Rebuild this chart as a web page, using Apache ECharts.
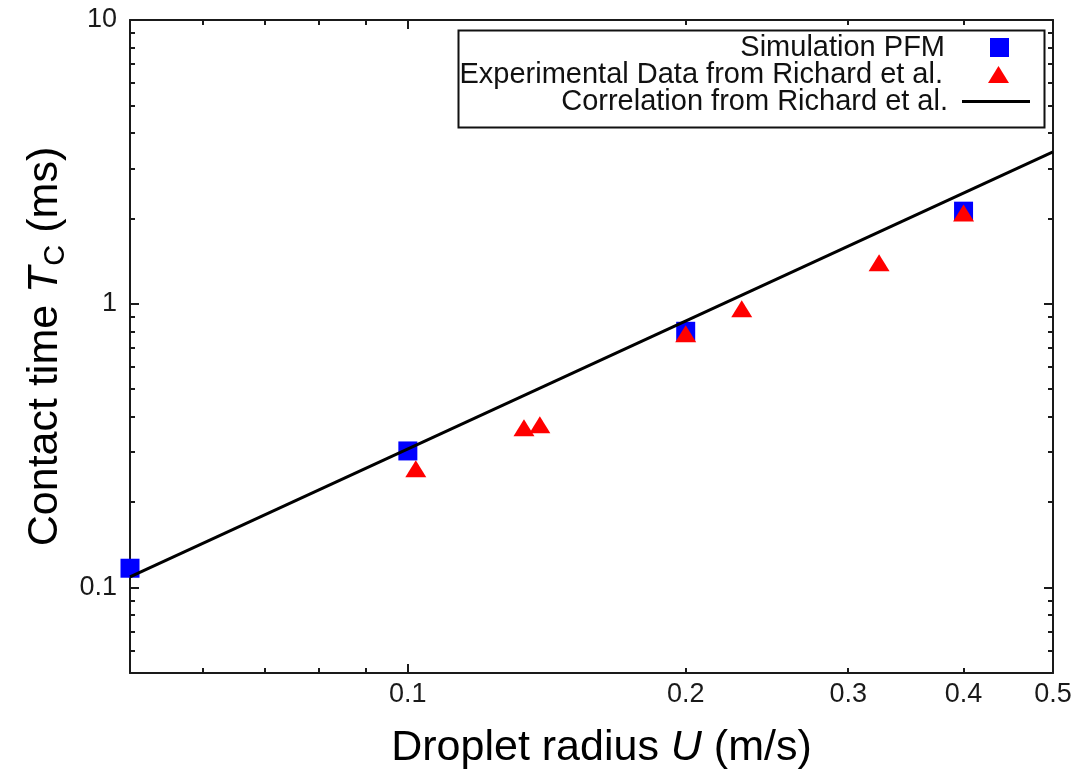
<!DOCTYPE html>
<html><head><meta charset="utf-8">
<script src="https://cdn.jsdelivr.net/npm/echarts@6/dist/echarts.min.js"></script>
<style>html,body{margin:0;padding:0;background:#fff}#c{width:1086px;height:772px}</style>
</head><body><div id="c"></div>
<script>
// ---- data ----
const seriesNames = ['Simulation PFM', 'Experimental Data from Richard et al.', 'Correlation from Richard et al.'];
const simX = [0.05, 0.1, 0.2, 0.4];
const simY = [0.117, 0.303, 0.80, 2.12];
const expX = [0.102, 0.1336, 0.139, 0.2, 0.23, 0.324, 0.4];
const expY = [0.262, 0.366, 0.375, 0.784, 0.96, 1.395, 2.09];
const corrX = [0.05, 0.5];
const corrY = [0.109, 3.43];
const xRange = [0.05, 0.5];
const yRange = [0.05, 10];
const xMajorTicks = [0.1];
const xMinorTicks = [0.06, 0.07, 0.08, 0.09, 0.2, 0.3, 0.4];
const xTickLabels = [0.1, 0.2, 0.3, 0.4, 0.5];
const yMajorTicks = [0.1, 1, 10];
const yMinorTicks = [0.06, 0.07, 0.08, 0.09, 0.2, 0.3, 0.4, 0.5, 0.6, 0.7, 0.8, 0.9, 2, 3, 4, 5, 6, 7, 8, 9];
const yTickLabels = [0.1, 1, 10];
const xTitle = 'Droplet radius {i|U} (m/s)';
const yTitle = 'Contact time {i|T}{s|C} (ms)';

const FONT = '"Liberation Sans", Arial, Helvetica, sans-serif';
const AX = '#1a1a1a';
const L = v => Math.log10(v);
const fmt = v => String(parseFloat(Math.pow(10, v).toPrecision(2)));
const zip = (a, b) => a.map((v, i) => [v, b[i]]);

function decoAxis(position, range, ticks, len, labels, showLine, labelMargin) {
  return {
    type: 'value', position: position, min: L(range[0]), max: L(range[1]),
    silent: true, splitLine: {show: false}, minorTick: {show: false},
    axisLine: {show: !!showLine, onZero: false, lineStyle: {color: AX, width: 2}},
    axisTick: {show: true, inside: true, length: len, customValues: ticks.map(L),
               lineStyle: {color: AX, width: 2}},
    axisLabel: labels ? {show: true, customValues: labels.map(L), formatter: fmt,
               margin: labelMargin, fontSize: 27, color: '#1a1a1a', fontFamily: FONT,
               showMinLabel: true, showMaxLabel: true, hideOverlap: false}
             : {show: false}
  };
}

const titleRich = (sz) => ({
  i: {fontStyle: 'italic', fontSize: sz, fontFamily: FONT, color: '#000', lineHeight: 50},
  s: {fontSize: 29, fontFamily: FONT, color: '#000', lineHeight: 29, verticalAlign: 'bottom', padding: [0, 0, 0, 1]}
});
const legendText = (padRight) => ({
  fontSize: 29, fontFamily: FONT, color: '#111',
  rich: {t: {fontSize: 29, fontFamily: FONT, color: '#111', padding: [0, padRight, 0, 0]}}
});

const chart = echarts.init(document.getElementById('c'), null, {renderer: 'canvas'});
chart.setOption({
  animation: false,
  backgroundColor: '#fff',
  grid: {left: 130, right: 33, top: 20, bottom: 99, containLabel: false, outerBoundsMode: 'none'},
  xAxis: [
    {type: 'log', logBase: 10, min: xRange[0], max: xRange[1], position: 'bottom',
     axisLine: {show: true, onZero: false, lineStyle: {color: AX, width: 2}},
     axisTick: {show: false}, axisLabel: {show: false}, splitLine: {show: false}, minorTick: {show: false},
     name: xTitle, nameLocation: 'middle', nameGap: 50,
     nameTextStyle: {fontSize: 43, fontFamily: FONT, color: '#000', lineHeight: 50, padding: [0, 0, 0, 20], rich: titleRich(43)}},
    decoAxis('bottom', xRange, xMajorTicks, 9, xTickLabels, false, 8),
    decoAxis('bottom', xRange, xMinorTicks, 5, null, false),
    decoAxis('top', xRange, xMajorTicks, 9, null, true),
    decoAxis('top', xRange, xMinorTicks, 5, null, false)
  ],
  yAxis: [
    {type: 'log', logBase: 10, min: yRange[0], max: yRange[1], position: 'left',
     axisLine: {show: true, onZero: false, lineStyle: {color: AX, width: 2}},
     axisTick: {show: false}, axisLabel: {show: false}, splitLine: {show: false}, minorTick: {show: false},
     name: yTitle, nameLocation: 'middle', nameGap: 60, nameRotate: 90,
     nameTextStyle: {fontSize: 43, fontFamily: FONT, color: '#000', lineHeight: 50, rich: titleRich(43)}},
    decoAxis('left', yRange, yMajorTicks, 9, yTickLabels, false, 13),
    decoAxis('left', yRange, yMinorTicks, 5, null, false),
    decoAxis('right', yRange, yMajorTicks, 9, null, true),
    decoAxis('right', yRange, yMinorTicks, 5, null, false)
  ],
  legend: [
    {data: [seriesNames[0]], right: 77, top: 33, padding: 0, align: 'right', icon: 'rect',
     itemWidth: 19, itemHeight: 19, selectedMode: false,
     formatter: '{t|{name}}', textStyle: legendText(40)},
    {data: [seriesNames[1]], right: 77, top: 60, padding: 0, align: 'right', icon: 'triangle',
     itemWidth: 21, itemHeight: 17, selectedMode: false,
     formatter: '{t|{name}}', textStyle: legendText(40)},
    {data: [seriesNames[2]], right: 56, top: 87, padding: 0, align: 'right', icon: 'rect',
     itemWidth: 68, itemHeight: 3, selectedMode: false,
     formatter: '{t|{name}}', textStyle: legendText(9)}
  ],
  graphic: [
    {type: 'rect', left: 456, top: 28, z: 1, silent: true,
     shape: {width: 586, height: 97}, style: {fill: 'none', stroke: '#111', lineWidth: 2}}
  ],
  series: [
    {name: seriesNames[0], type: 'scatter', xAxisIndex: 0, yAxisIndex: 0, symbol: 'rect', symbolSize: 19,
     itemStyle: {color: '#0000ff', opacity: 1}, clip: false, data: zip(simX, simY), z: 3},
    {name: seriesNames[1], type: 'scatter', xAxisIndex: 0, yAxisIndex: 0, symbol: 'triangle', symbolSize: [21, 17],
     itemStyle: {color: '#ff0000', opacity: 1}, clip: false, data: zip(expX, expY), z: 4},
    {name: seriesNames[2], type: 'line', xAxisIndex: 0, yAxisIndex: 0, symbol: 'none', showSymbol: false,
     lineStyle: {color: '#000', width: 3}, itemStyle: {color: '#000'}, data: zip(corrX, corrY), z: 5}
  ]
});
</script></body></html>
